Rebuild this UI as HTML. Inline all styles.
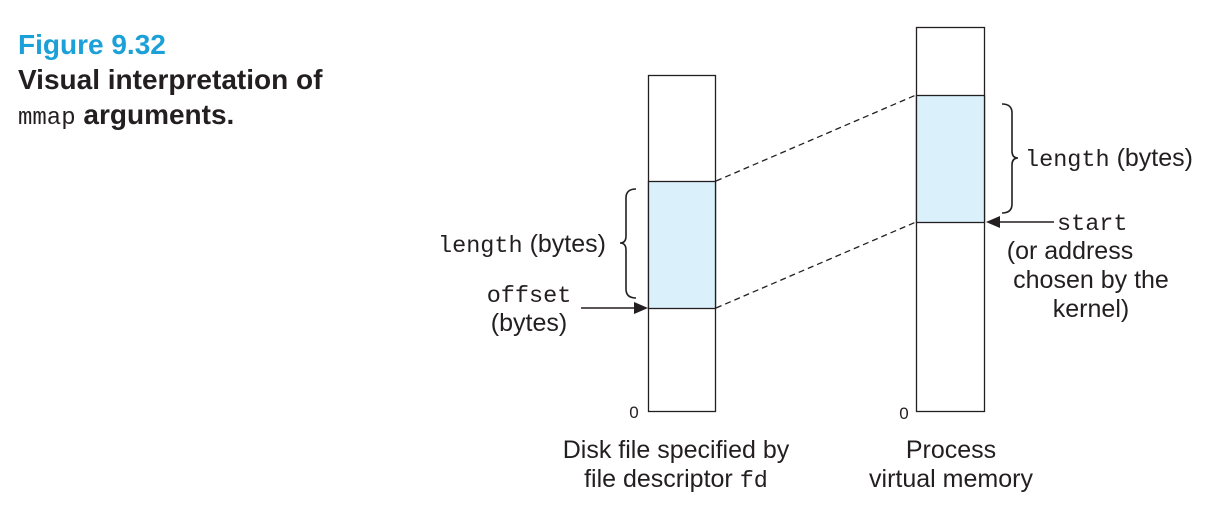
<!DOCTYPE html>
<html><head><meta charset="utf-8"><style>
body{margin:0;background:#fff;width:1221px;height:520px;overflow:hidden}
</style></head><body>
<svg width="1221" height="520" xmlns="http://www.w3.org/2000/svg" font-family="Liberation Sans, sans-serif" font-size="25" fill="#231f20">
<text x="18" y="54" font-size="28" font-weight="bold" fill="#1ba0d8">Figure 9.32</text>
<text x="18" y="89" font-size="28" font-weight="bold">Visual interpretation of</text>
<text x="18" y="124" font-size="28"><tspan font-family="Liberation Mono, monospace" font-size="24">mmap</tspan><tspan font-weight="bold"> arguments.</tspan></text>
<g stroke="#231f20" stroke-width="1.3">
<rect x="648.5" y="75.5" width="67" height="336" fill="#fff"/>
<rect x="648.5" y="181.5" width="67" height="127" fill="#daf0fa"/>
<rect x="916.5" y="27.5" width="68" height="384" fill="#fff"/>
<rect x="916.5" y="95.5" width="68" height="127" fill="#daf0fa"/>
<line x1="716" y1="181" x2="916" y2="95" stroke-dasharray="6,4"/>
<line x1="716" y1="308" x2="916" y2="222" stroke-dasharray="6,4"/>
<path d="M636,189 Q626,189 626,198 L626,236 Q626,243 620,243 Q626,243 626,250 L626,289 Q626,298 636,298" fill="none" stroke-width="1.6"/>
<path d="M1002,104 Q1012,104 1012,113 L1012,151 Q1012,158 1018,158 Q1012,158 1012,165 L1012,204 Q1012,213 1002,213" fill="none" stroke-width="1.6"/>
<line x1="581" y1="308" x2="636" y2="308" stroke-width="1.6"/>
<line x1="998" y1="222" x2="1054" y2="222" stroke-width="1.6"/>
</g>
<polygon points="648,308 634,302 634,314" fill="#231f20"/>
<polygon points="986,222 1000,216 1000,228" fill="#231f20"/>
<text x="438" y="252"><tspan font-family="Liberation Mono, monospace" font-size="23.5">length</tspan> (bytes)</text>
<text x="1025" y="166"><tspan font-family="Liberation Mono, monospace" font-size="23.5">length</tspan> (bytes)</text>
<text x="529" y="302" text-anchor="middle" font-family="Liberation Mono, monospace" font-size="23.5">offset</text>
<text x="529" y="331" text-anchor="middle">(bytes)</text>
<text x="1057" y="230" font-family="Liberation Mono, monospace" font-size="23.5">start</text>
<text x="1070" y="259" text-anchor="middle">(or address</text>
<text x="1091" y="288" text-anchor="middle">chosen by the</text>
<text x="1091" y="317" text-anchor="middle">kernel)</text>
<text x="634" y="418" font-size="17" text-anchor="middle">0</text>
<text x="904" y="419" font-size="17" text-anchor="middle">0</text>
<text x="676" y="458" text-anchor="middle">Disk file specified by</text>
<text x="676" y="487" text-anchor="middle">file descriptor <tspan font-family="Liberation Mono, monospace" font-size="23.5">fd</tspan></text>
<text x="951" y="458" text-anchor="middle">Process</text>
<text x="951" y="487" text-anchor="middle">virtual memory</text>
</svg>
</body></html>
